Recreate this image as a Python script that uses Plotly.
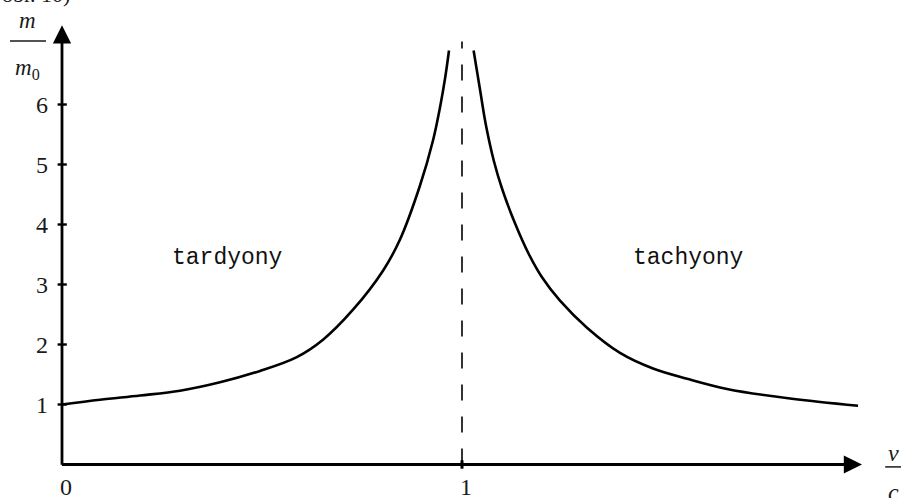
import plotly.graph_objects as go

# Relative mass m/m0 against speed v/c (stylised curve)
v_tardyon = [0.0, 0.095, 0.195, 0.295, 0.395, 0.495, 0.587, 0.6525, 0.7275,
             0.8025, 0.845, 0.895, 0.9275, 0.945, 0.958, 0.9675]
m_tardyon = [1.0, 1.08, 1.15, 1.23, 1.37, 1.56, 1.79, 2.08, 2.58,
             3.23, 3.75, 4.65, 5.4, 5.95, 6.45, 6.9]

v_tachyon = [1.029, 1.045, 1.06, 1.08, 1.1, 1.1325, 1.1675, 1.2, 1.245,
             1.3125, 1.395, 1.4775, 1.5625, 1.6625, 1.82, 1.99]
m_tachyon = [6.9, 6.25, 5.65, 5.05, 4.6, 4.02, 3.5, 3.12, 2.73,
             2.28, 1.86, 1.6, 1.43, 1.26, 1.1, 0.98]

y_ticks = [1, 2, 3, 4, 5, 6]
x_ticks = [0, 1]
x_tick_labels = ["0", "1"]
region_labels = ["tardyony", "tachyony"]
region_x = [0.413, 1.565]
region_y = [3.44, 3.44]

X_RANGE = [-0.155, 2.0975]
Y_RANGE = [-0.5583, 7.7417]

SERIF = "Liberation Serif, Times New Roman, serif"
INK = "black"
TEXT = "#1a1a1a"

fig = go.Figure()

for vs, ms in ((v_tardyon, m_tardyon), (v_tachyon, m_tachyon)):
    fig.add_trace(go.Scatter(x=vs, y=ms, mode="lines",
                             line=dict(color=INK, width=2.6, shape="spline",
                                       smoothing=1.0),
                             hoverinfo="skip", showlegend=False))

# asymptote at v = c
fig.add_shape(type="line", x0=1, x1=1, y0=0, y1=7.05,
              line=dict(color=INK, width=1.6, dash="16px,16px"))

# axes with arrow heads
fig.add_annotation(x=0, y=7.32, ax=0, ay=-0.03, xref="x", yref="y",
                   axref="x", ayref="y", text="", showarrow=True,
                   arrowhead=2, arrowsize=1.3, arrowwidth=2.8, arrowcolor=INK)
fig.add_annotation(x=2.0, y=0, ax=-0.004, ay=0, xref="x", yref="y",
                   axref="x", ayref="y", text="", showarrow=True,
                   arrowhead=2, arrowsize=1.3, arrowwidth=2.8, arrowcolor=INK)

# tick marks and labels
for t in y_ticks:
    fig.add_shape(type="line", x0=-0.011, x1=0.012, y0=t, y1=t,
                  line=dict(color=INK, width=2.4))
    fig.add_annotation(x=-0.03, y=t, text=str(t), showarrow=False,
                       xanchor="right", yanchor="middle",
                       font=dict(family=SERIF, size=24, color=TEXT))
for t, lab in zip(x_ticks, x_tick_labels):
    if t != 0:
        fig.add_shape(type="line", x0=t, x1=t, y0=-0.07, y1=0.07,
                      line=dict(color=INK, width=3))
    fig.add_annotation(x=t + 0.01, y=-0.37, text=lab, showarrow=False,
                       xanchor="center", yanchor="middle",
                       font=dict(family=SERIF, size=24, color=TEXT))

# region labels
for lab, x, y in zip(region_labels, region_x, region_y):
    fig.add_annotation(x=x, y=y, text=lab, showarrow=False,
                       xanchor="center", yanchor="middle",
                       font=dict(family="Liberation Mono, Courier New, monospace",
                                 size=23, color="#111"))

# axis titles as fractions
fig.add_annotation(x=-0.0875, y=7.4, text="<i>m</i>", showarrow=False,
                   font=dict(family=SERIF, size=23, color=TEXT))
fig.add_shape(type="line", x0=-0.13, x1=-0.04, y0=7.06, y1=7.06,
              line=dict(color=TEXT, width=1.5))
fig.add_annotation(x=-0.0875, y=6.6, text="<i>m</i><sub>0</sub>", showarrow=False,
                   font=dict(family=SERIF, size=23, color=TEXT))

fig.add_annotation(x=2.0775, y=0.2, text="<i>v</i>", showarrow=False,
                   font=dict(family=SERIF, size=24, color=TEXT))
fig.add_shape(type="line", x0=2.058, x1=2.0975, y0=-0.04, y1=-0.04,
              line=dict(color=TEXT, width=1.5))
fig.add_annotation(x=2.0775, y=-0.2, text="<i>c</i>", showarrow=False,
                   yanchor="top",
                   font=dict(family=SERIF, size=24, color=TEXT))

# caption line running off the top edge
fig.add_annotation(x=0.0, y=1.0, xref="paper", yref="paper", text="obr. 10)",
                   showarrow=False, xanchor="left", yanchor="bottom", yshift=-9,
                   font=dict(family=SERIF, size=22, color=TEXT))

fig.update_xaxes(range=X_RANGE, visible=False, fixedrange=True)
fig.update_yaxes(range=Y_RANGE, visible=False, fixedrange=True)
fig.update_layout(width=901, height=498, margin=dict(l=0, r=0, t=0, b=0),
                  plot_bgcolor="white", paper_bgcolor="white", showlegend=False)

fig.write_html("out.html")
